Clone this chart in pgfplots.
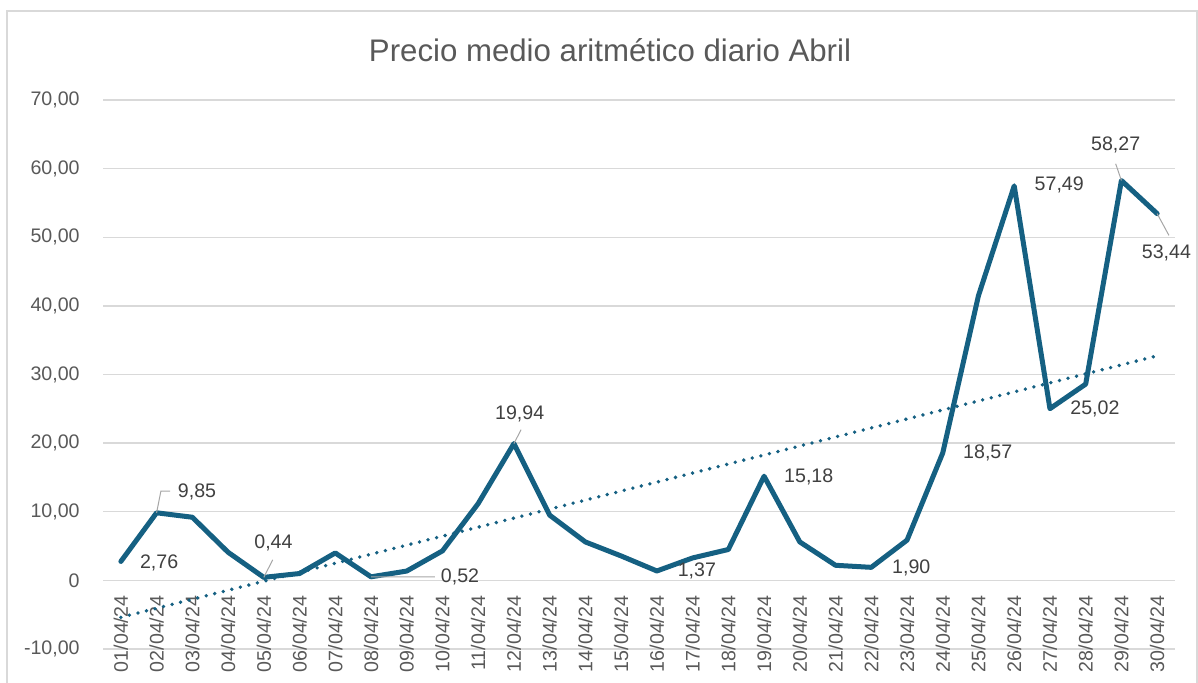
\documentclass[border=0pt]{standalone}
\usepackage{fontspec}
\setmainfont{Liberation Sans}
\usepackage{pgfplots}
\pgfplotsset{compat=1.18}
\definecolor{linec}{HTML}{156082}
\definecolor{gridc}{HTML}{D9D9D9}
\definecolor{tickc}{HTML}{595959}
\definecolor{labc}{HTML}{404040}
\definecolor{leadc}{HTML}{A6A6A6}
\tikzset{lab/.style={font=\fontsize{9.8}{11}\selectfont, text=labc, inner sep=0pt}}
\begin{document}
\begin{tikzpicture}
\useasboundingbox (0,0) rectangle (599pt,341pt);
\draw[gridc, line width=0.8pt] (3.5pt,-5pt) -- (3.5pt,335.5pt) -- (598.5pt,335.5pt) -- (598.5pt,-5pt);
\begin{axis}[at={(51.5pt,16.5pt)}, anchor=south west, scale only axis,
 width=536pt, height=274.5pt,
 xmin=0.5, xmax=30.5, ymin=-10, ymax=70,
 axis x line=middle, axis y line=left, axis line style={draw=none},
 hide obscured x ticks=false, hide obscured y ticks=false,
 ytick={-10,0,10,20,30,40,50,60,70},
 yticklabels={{-10,00},{0},{10,00},{20,00},{30,00},{40,00},{50,00},{60,00},{70,00}},
 xtick={1,...,30},
 xticklabels={01/04/24,02/04/24,03/04/24,04/04/24,05/04/24,06/04/24,07/04/24,08/04/24,09/04/24,10/04/24,11/04/24,12/04/24,13/04/24,14/04/24,15/04/24,16/04/24,17/04/24,18/04/24,19/04/24,20/04/24,21/04/24,22/04/24,23/04/24,24/04/24,25/04/24,26/04/24,27/04/24,28/04/24,29/04/24,30/04/24},
 major tick length=0pt,
 ymajorgrids, grid style={gridc, line width=0.7pt},
 tick label style={font=\fontsize{9.8}{11}\selectfont, text=tickc},
 yticklabel style={anchor=east, inner sep=0pt, xshift=-11.5pt},
 xticklabel style={yshift=-7.5pt, rotate=90, anchor=east, inner sep=0pt},
 clip=false,
]
\addplot[linec, line width=2.5pt, line join=round, line cap=round] coordinates {
(1,2.76)(2,9.85)(3,9.2)(4,4.1)(5,0.44)(6,1.0)(7,4.0)(8,0.52)(9,1.36)(10,4.3)
(11,11.2)(12,19.94)(13,9.5)(14,5.6)(15,3.56)(16,1.37)(17,3.27)(18,4.5)(19,15.18)(20,5.6)
(21,2.2)(22,1.90)(23,5.86)(24,18.57)(25,41.5)(26,57.49)(27,25.02)(28,28.6)(29,58.27)(30,53.44)};
\addplot[linec, line width=1.9pt, line cap=round, dash pattern=on 0pt off 4.4pt] coordinates {(1,-5.38)(30,32.72)};
\draw[leadc, line width=0.5pt] (axis cs:2,9.85) -- (axis cs:2.12,13.0) -- (axis cs:2.38,13.0);
\draw[leadc, line width=0.5pt] (axis cs:5,0.44) -- (axis cs:5.25,3.0);
\draw[leadc, line width=0.5pt] (axis cs:8,0.52) -- (axis cs:9.79,0.5);
\draw[leadc, line width=0.5pt] (axis cs:12,19.94) -- (axis cs:12.2,21.96);
\draw[leadc, line width=0.5pt] (axis cs:29,58.27) -- (axis cs:28.84,60.7);
\draw[leadc, line width=0.5pt] (axis cs:30,53.44) -- (axis cs:30.33,50.27);
\node[lab] at (axis cs:2.07,2.6) {2,76};
\node[lab] at (axis cs:3.13,12.9) {9,85};
\node[lab] at (axis cs:5.27,5.44) {0,44};
\node[lab] at (axis cs:10.49,0.48) {0,52};
\node[lab] at (axis cs:12.16,24.3) {19,94};
\node[lab] at (axis cs:17.12,1.36) {1,37};
\node[lab] at (axis cs:20.25,15.06) {15,18};
\node[lab] at (axis cs:23.12,1.8) {1,90};
\node[lab] at (axis cs:25.26,18.6) {18,57};
\node[lab] at (axis cs:27.26,57.56) {57,49};
\node[lab] at (axis cs:28.26,25.0) {25,02};
\node[lab] at (axis cs:28.84,63.4) {58,27};
\node[lab] at (axis cs:30.26,47.7) {53,44};
\end{axis}
\node[font=\fontsize{15.6}{18}\selectfont, text=tickc] at (305pt,316pt) {Precio medio aritmético diario Abril};
\end{tikzpicture}
\end{document}
